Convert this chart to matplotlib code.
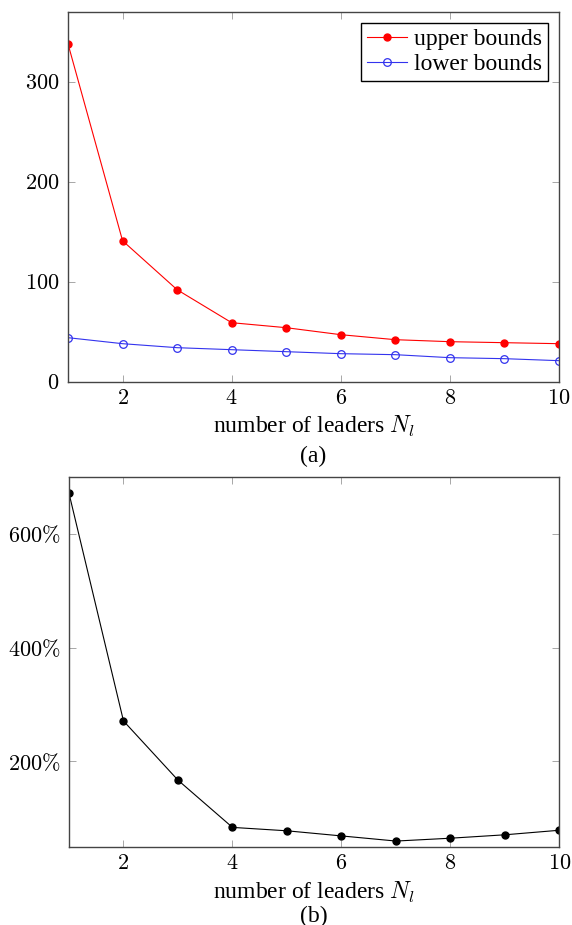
import matplotlib
matplotlib.use("Agg")
import matplotlib.pyplot as plt
from matplotlib.ticker import FuncFormatter, FixedLocator

plt.rcParams['mathtext.fontset'] = 'cm'
plt.rcParams['font.family'] = ['Liberation Serif', 'DejaVu Serif']

leaders = [1, 2, 3, 4, 5, 6, 7, 8, 9, 10]
upper_bounds = [338, 141, 92, 59, 54, 47, 42, 40, 39, 38]
lower_bounds = [44, 38, 34, 32, 30, 28, 27, 24, 23, 21]
gap_percent = [671, 271, 167, 84, 78, 69, 60, 65, 71, 79]

top_yticks = [0, 100, 200, 300]
bot_yticks = [200, 400, 600]
xticks = [2, 4, 6, 8, 10]

fig = plt.figure(figsize=(5.72, 9.25), dpi=100)
ax1 = fig.add_axes([0.1189, 0.5874, 0.8584, 0.3997])
ax2 = fig.add_axes([0.1206, 0.0846, 0.8575, 0.4000])

spine_col = '#444444'
for ax in (ax1, ax2):
    for s in ax.spines.values():
        s.set_color(spine_col)
        s.set_linewidth(1.0)
    ax.tick_params(direction='in', length=5, width=0.6, color='#999999',
                   top=True, right=True, labelsize=16, pad=6)
    ax.set_xlim(1, 10)
    ax.xaxis.set_major_locator(FixedLocator(xticks))
    ax.xaxis.set_major_formatter(FuncFormatter(lambda v, p: r'$%d$' % v))
    ax.set_xlabel(r'number of leaders $N_l$', fontsize=17)
    ax.xaxis.label.set_va('center')
    ax.xaxis.set_label_coords(0.5, -0.1225)

ax1.plot(leaders, upper_bounds, color='#ff0000', lw=0.8, marker='o', ms=5,
         mfc='#ff0000', mec='#ff0000', label='upper bounds')
ax1.plot(leaders, lower_bounds, color='#3333ee', lw=0.8, marker='o', ms=5.5,
         mfc='none', mec='#3333ee', mew=0.9, label='lower bounds')
ax1.set_ylim(0, 370)
ax1.yaxis.set_major_locator(FixedLocator(top_yticks))
ax1.yaxis.set_major_formatter(FuncFormatter(lambda v, p: r'$%d$' % v))
leg = ax1.legend(loc='upper right', fontsize=17, frameon=True, fancybox=False,
                 edgecolor='black', framealpha=1, handlelength=1.7,
                 borderaxespad=0.45, handletextpad=0.3, borderpad=0.25,
                 labelspacing=0.15)
leg.get_frame().set_linewidth(1.0)

ax2.plot(leaders, gap_percent, color='black', lw=0.8, marker='o', ms=5,
         mfc='black', mec='black')
ax2.set_ylim(50, 700)
ax2.yaxis.set_major_locator(FixedLocator(bot_yticks))
ax2.yaxis.set_major_formatter(FuncFormatter(lambda v, p: r'$%d\%%$' % v))

fig.text(0.548, 1 - 456 / 925, '(a)', ha='center', va='center', fontsize=17)
fig.text(0.548, 1 - 916 / 925, '(b)', ha='center', va='center', fontsize=17)

fig.savefig('out.png', dpi=100)
